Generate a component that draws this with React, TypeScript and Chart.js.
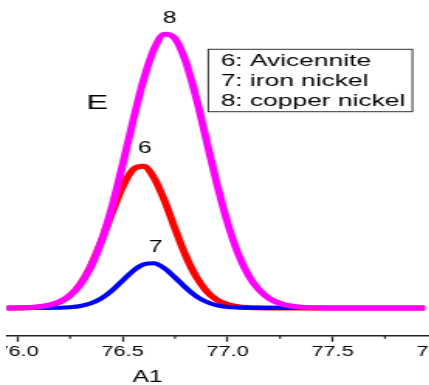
import React, { useEffect, useRef } from "react";
import { Chart, registerables } from "chart.js";

Chart.register(...registerables);

// ---------- data ----------
const xValues = [
  75.95, 76.0, 76.05, 76.1, 76.15, 76.2, 76.25, 76.3, 76.35, 76.4, 76.45,
  76.5, 76.55, 76.6, 76.65, 76.7, 76.75, 76.8, 76.85, 76.9, 76.95, 77.0,
  77.05, 77.1, 77.15, 77.2, 77.25, 77.3, 77.35, 77.4, 77.45, 77.5, 77.55,
  77.6, 77.65, 77.7, 77.75, 77.8, 77.85, 77.9, 77.94,
];

// 6: Avicennite (red)
const avicennite = [
  0.01, 0.03, 0.1, 0.31, 0.85, 2.06, 4.5, 8.82, 15.5, 24.5, 34.7, 44.1, 50.4,
  51.6, 47.4, 39.1, 28.9, 19.2, 11.5, 6.13, 2.94, 1.27, 0.49, 0.17, 0.05, 0.01,
  0, 0, 0, 0, 0, 0, 0, 0, 0, 0, 0, 0, 0, 0, 0,
];

// 7: iron nickel (blue)
const ironNickel = [
  0, 0, 0, 0.01, 0.02, 0.08, 0.26, 0.71, 1.71, 3.53, 6.36, 9.95, 13.5, 15.9,
  16.3, 14.4, 11.1, 7.46, 4.33, 2.19, 0.96, 0.36, 0.12, 0.04, 0.01, 0, 0, 0, 0,
  0, 0, 0, 0, 0, 0, 0, 0, 0, 0, 0, 0,
];

// 8: copper nickel (magenta)
const copperNickel = [
  0.02, 0.07, 0.18, 0.46, 1.06, 2.29, 4.61, 8.62, 15.0, 24.4, 36.9, 52.0, 68.1,
  83.0, 94.3, 99.7, 98.2, 90.0, 76.8, 61.0, 45.1, 31.1, 19.9, 11.9, 6.6, 3.41,
  1.65, 0.74, 0.31, 0.12, 0.04, 0.01, 0, 0, 0, 0, 0, 0, 0, 0, 0,
];

const majorTicks = [76.0, 76.5, 77.0, 77.5, 78.0];
const minorTicks = [76.25, 76.75, 77.25, 77.75];
const legendLines = ["6: Avicennite", "7: iron nickel", "8: copper nickel"];
const xTitle = "A1";
const xTitleAt = 76.619;

// text marks placed in data coordinates
const textLabels = [
  { text: "8", x: 76.724, y: 105.5, size: 16 },
  { text: "6", x: 76.607, y: 57.9, size: 16 },
  { text: "7", x: 76.657, y: 22.0, size: 16 },
  { text: "E", x: 76.379, y: 74.5, size: 21 },
];

const FONT = '"Liberation Sans", Arial, Helvetica, sans-serif';
const AXIS_COLOR = "#222";

const overlayPlugin = {
  id: "overlay",
  afterDraw(chart: any) {
    const ctx = chart.ctx as CanvasRenderingContext2D;
    const xs = chart.scales.x;
    const ys = chart.scales.y;
    const area = chart.chartArea;
    ctx.save();

    // minor ticks
    ctx.strokeStyle = AXIS_COLOR;
    ctx.lineWidth = 1.2;
    minorTicks.forEach((v) => {
      const px = xs.getPixelForValue(v);
      ctx.beginPath();
      ctx.moveTo(px, area.bottom);
      ctx.lineTo(px, area.bottom + 3);
      ctx.stroke();
    });

    // peak / panel labels
    ctx.fillStyle = "#000";
    ctx.textAlign = "center";
    ctx.textBaseline = "middle";
    textLabels.forEach((l) => {
      ctx.font = `${l.size}px ${FONT}`;
      ctx.fillText(l.text, xs.getPixelForValue(l.x), ys.getPixelForValue(l.y));
    });

    // axis title
    ctx.font = `16px ${FONT}`;
    ctx.fillText(xTitle, xs.getPixelForValue(xTitleAt), area.bottom + 41.5);

    // legend box
    const bx = area.left + 143.4;
    const by = area.top + 49.3;
    ctx.strokeStyle = "#333";
    ctx.lineWidth = 1;
    ctx.strokeRect(bx, by, 131.7, 62.4);
    ctx.font = `17px ${FONT}`;
    ctx.textAlign = "left";
    legendLines.forEach((t, i) => {
      ctx.fillText(t, bx + 8, by + 12 + 20 * i);
    });

    ctx.restore();
  },
};

export default function App() {
  const canvasRef = useRef<HTMLCanvasElement | null>(null);

  useEffect(() => {
    if (!canvasRef.current) return;
    const mk = (vals: number[]) => xValues.map((x, i) => ({ x, y: vals[i] }));
    const chart = new Chart(canvasRef.current, {
      type: "line",
      data: {
        datasets: [
          {
            label: "8: copper nickel",
            data: mk(copperNickel),
            borderColor: "#FF00FF",
            borderWidth: 5,
          },
          {
            label: "7: iron nickel",
            data: mk(ironNickel),
            borderColor: "#0000FF",
            borderWidth: 4,
          },
          {
            label: "6: Avicennite",
            data: mk(avicennite),
            borderColor: "#FF0000",
            borderWidth: 5,
          },
        ],
      },
      options: {
        animation: false,
        responsive: true,
        maintainAspectRatio: false,
        layout: {
          autoPadding: false,
          padding: { top: 0, left: 0, right: 0, bottom: 21.5 },
        },
        elements: {
          point: { radius: 0 },
          line: { cubicInterpolationMode: "monotone", fill: false },
        },
        plugins: {
          legend: { display: false },
          tooltip: { enabled: false },
        },
        scales: {
          x: {
            type: "linear",
            min: 75.85,
            max: 78.2636,
            afterBuildTicks: (scale: any) => {
              scale.ticks = majorTicks.map((v) => ({ value: v }));
            },
            grid: {
              drawOnChartArea: false,
              drawTicks: true,
              tickLength: 6,
              tickColor: AXIS_COLOR,
              tickWidth: 1.3,
            },
            border: { display: true, color: AXIS_COLOR, width: 1.5 },
            ticks: {
              autoSkip: false,
              maxRotation: 0,
              padding: 2.5,
              color: "#000",
              font: { family: FONT, size: 14 },
              callback: (v: any) => Number(v).toFixed(1),
            },
          },
          y: {
            type: "linear",
            display: false,
            min: -10.1,
            max: 112.2,
          },
        },
      },
      plugins: [overlayPlugin],
    } as any);
    return () => chart.destroy();
  }, []);

  return (
    <div
      style={{
        position: "fixed",
        left: 6,
        top: 0,
        width: 423,
        height: 385,
        overflow: "hidden",
        background: "#fff",
      }}
    >
      <div
        style={{
          position: "absolute",
          left: -20,
          top: 0,
          width: 327,
          height: 385,
          transform: "scaleX(1.55)",
          transformOrigin: "0 0",
        }}
      >
        <canvas ref={canvasRef} />
      </div>
    </div>
  );
}
